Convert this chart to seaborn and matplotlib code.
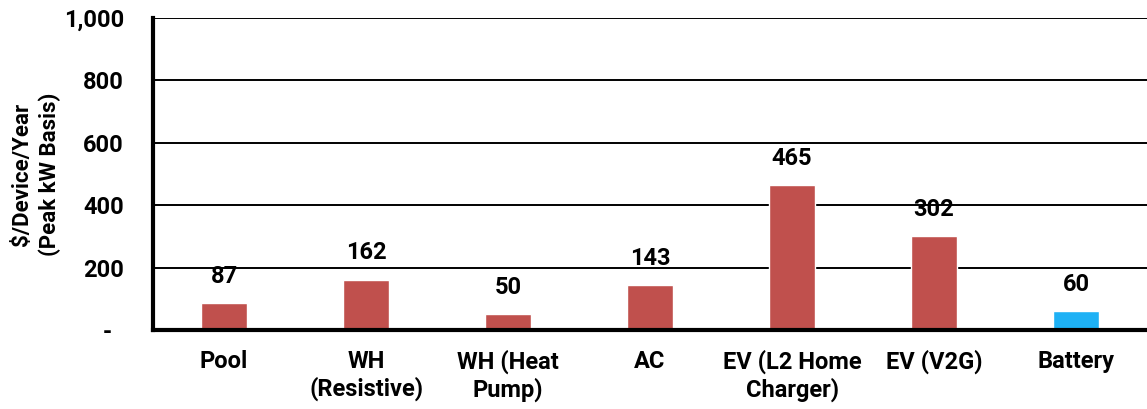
import numpy as np
import pandas as pd
import matplotlib
matplotlib.use("Agg")
import matplotlib.pyplot as plt
import seaborn as sns
from matplotlib.ticker import FuncFormatter, FixedLocator

# chart data
categories = ["Pool", "WH\n(Resistive)", "WH (Heat\nPump)", "AC",
              "EV (L2 Home\nCharger)", "EV (V2G)", "Battery"]
values = [87, 162, 50, 143, 465, 302, 60]
bar_colors = ["#C0504D", "#C0504D", "#C0504D", "#C0504D",
              "#C0504D", "#C0504D", "#1EB1F5"]
y_ticks = [0, 200, 400, 600, 800, 1000]


def fmt_y(v, pos):
    # accounting style: zero shown as a dash with padding
    return "-  " if v == 0 else f"{int(v):,}"


def main():
    sns.set_theme(style="white")
    plt.rcParams.update({
        "font.family": ["Roboto", "DejaVu Sans"],
        "font.weight": "bold",
        "text.color": "black",
        "axes.labelcolor": "black",
        "xtick.color": "black",
        "ytick.color": "black",
    })

    df = pd.DataFrame({"category": categories, "value": values})

    fig = plt.figure(figsize=(11.47, 4.09), dpi=100)
    ax = fig.add_axes([0.1334, 0.193, 0.8666, 0.763])

    sns.barplot(data=df, x="category", y="value", hue="category",
                palette=bar_colors, width=0.32, legend=False, ax=ax,
                saturation=1, zorder=3)

    ax.set_ylim(0, 1000)
    ax.set_xlim(-0.5, len(categories) - 0.5)
    ax.yaxis.set_major_locator(FixedLocator(y_ticks))
    ax.yaxis.set_major_formatter(FuncFormatter(fmt_y))
    ax.grid(axis="y", color="black", linewidth=1.4, zorder=0)
    ax.set_axisbelow(True)

    for s in ["top", "right"]:
        ax.spines[s].set_visible(False)
    for s in ["left", "bottom"]:
        ax.spines[s].set_color("black")
        ax.spines[s].set_linewidth(3)
        ax.spines[s].set_zorder(5)

    ax.tick_params(axis="y", which="major", direction="out", length=5,
                   width=3, color="black", labelsize=17, pad=16)
    ax.tick_params(axis="x", which="major", length=0, labelsize=17, pad=14)
    ax.set_xticks(np.arange(-0.5, len(categories) - 0.5 + 0.01, 1.0), minor=True)
    ax.tick_params(axis="x", which="minor", direction="out", length=8,
                   width=3, color="black")

    for lbl in ax.get_xticklabels() + ax.get_yticklabels():
        lbl.set_fontweight("bold")

    ax.set_xlabel("")
    ax.set_ylabel("$/Device/Year\n(Peak kW Basis)", fontsize=16,
                  fontweight="bold", labelpad=2, linespacing=1.3)

    for i, v in enumerate(values):
        ax.annotate(f"{v}", (i, v), xytext=(0, 11), textcoords="offset points",
                    ha="center", va="bottom", fontsize=17, fontweight="bold")

    fig.savefig("out.png", dpi=100)
    plt.close(fig)


if __name__ == "__main__":
    main()
